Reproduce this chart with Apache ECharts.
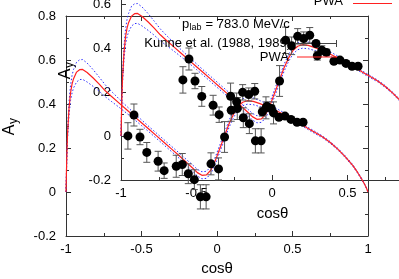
<!DOCTYPE html>
<html><head><meta charset="utf-8">
<script src="https://cdn.jsdelivr.net/npm/echarts@6/dist/echarts.min.js"></script>
<style>html,body{margin:0;padding:0;background:#fff}#c{width:399px;height:279px}</style>
</head><body><div id="c"></div>
<script>
// PWA curve (cos theta, A_y) and its uncertainty band
const pwaCos = [-1,-0.995,-0.99,-0.98,-0.97,-0.96,-0.95,-0.93,-0.91,-0.89,-0.86,-0.82,-0.78,-0.74,-0.7,-0.65,-0.6,-0.55,-0.5,-0.45,-0.4,-0.35,-0.3,-0.25,-0.2,-0.16,-0.13,-0.1,-0.07,-0.04,-0.01,0.02,0.05,0.08,0.11,0.14,0.17,0.2,0.24,0.28,0.32,0.36,0.4,0.45,0.5,0.55,0.6,0.65,0.7,0.75,0.8,0.85,0.9,0.93,0.96,0.98,0.99,1];
const pwaAy = [0,0.15,0.26,0.38,0.45,0.49,0.515,0.545,0.556,0.557,0.543,0.518,0.49,0.46,0.435,0.405,0.375,0.345,0.315,0.285,0.255,0.225,0.195,0.165,0.133,0.108,0.088,0.076,0.078,0.1,0.145,0.2,0.255,0.31,0.355,0.39,0.408,0.415,0.412,0.403,0.392,0.38,0.367,0.35,0.332,0.312,0.29,0.27,0.25,0.225,0.195,0.16,0.12,0.09,0.057,0.032,0.017,0];
const pwaUpper = [0,0.16,0.28,0.41,0.485,0.53,0.557,0.59,0.601,0.602,0.586,0.556,0.522,0.487,0.458,0.424,0.391,0.359,0.328,0.297,0.267,0.237,0.207,0.177,0.146,0.122,0.103,0.092,0.094,0.116,0.161,0.216,0.271,0.326,0.371,0.406,0.424,0.431,0.427,0.417,0.404,0.391,0.377,0.358,0.339,0.318,0.295,0.275,0.254,0.229,0.199,0.164,0.124,0.093,0.06,0.034,0.018,0];
const pwaLower = [0,0.14,0.24,0.35,0.415,0.45,0.473,0.5,0.511,0.512,0.5,0.48,0.458,0.433,0.412,0.386,0.359,0.331,0.302,0.273,0.243,0.213,0.183,0.153,0.12,0.094,0.073,0.06,0.062,0.084,0.129,0.184,0.239,0.294,0.339,0.374,0.392,0.399,0.397,0.389,0.38,0.369,0.357,0.342,0.325,0.306,0.285,0.265,0.246,0.221,0.191,0.156,0.116,0.087,0.054,0.03,0.016,0];

// Kunne et al. (1988, 1989) data points
const dataCos = [-0.59,-0.55,-0.51,-0.465,-0.39,-0.35,-0.27,-0.23,-0.19,-0.15,-0.11,-0.072,-0.04,0.01,0.05,0.09,0.13,0.17,0.21,0.25,0.3,0.33,0.36,0.41,0.45,0.49,0.53,0.57];
const dataAy = [0.255,0.35,0.25,0.18,0.14,0.097,0.117,0.125,0.083,0.056,-0.022,-0.022,0.128,0.105,0.25,0.435,0.41,0.453,0.443,0.458,0.365,0.39,0.38,0.34,0.345,0.33,0.317,0.317];
const dataErr = [0.06,0.05,0.035,0.045,0.045,0.035,0.05,0.05,0.045,0.045,0.055,0.055,0.05,0.05,0.07,0.06,0.04,0.035,0.03,0.035,0.02,0.02,0.015,0.01,0.01,0.01,0.01,0.01];

const xRange = [-1, 1], xStep = 0.5;
const yRange = [-0.2, 0.8], yStep = 0.2;
const legendTitleMain = 'p', legendTitleSub = 'lab', legendTitleRest = ' = 783.0 MeV/c';
const legendData = 'Kunne et al. (1988, 1989)';
const legendPwa = 'PWA';

const FONT = '"Liberation Sans", Arial, sans-serif';
const AX = '#333';

const curve = (ys) => pwaCos.map((c, i) => [c, ys[i]]);
const pts = dataCos.map((c, i) => [c, dataAy[i], dataErr[i]]);

function xAx(grid, pos, labels) {
  return {
    type: 'value', gridIndex: grid, position: pos, min: xRange[0], max: xRange[1], interval: xStep,
    axisLine: {show: true, onZero: false, lineStyle: {color: AX, width: 1}},
    axisTick: {show: true, inside: true, length: 5, lineStyle: {color: AX}},
    minorTick: {show: true, splitNumber: 2, length: 3, lineStyle: {color: AX}},
    splitLine: {show: false},
    axisLabel: {show: labels, margin: 7, color: '#000', fontSize: 13, fontFamily: FONT, showMinLabel: true, showMaxLabel: true, hideOverlap: false}
  };
}
function yAx(grid, pos, labels) {
  return {
    type: 'value', gridIndex: grid, position: pos, min: yRange[0], max: yRange[1], interval: yStep,
    axisLine: {show: true, onZero: false, lineStyle: {color: AX, width: 1}},
    axisTick: {show: true, inside: true, length: 5, lineStyle: {color: AX}},
    minorTick: {show: true, splitNumber: 2, length: 3, lineStyle: {color: AX}},
    splitLine: {show: false},
    axisLabel: {show: labels, margin: 10, color: '#000', fontSize: 13, fontFamily: FONT, showMinLabel: true, showMaxLabel: true, hideOverlap: false}
  };
}

function errRender(params, api) {
  const x = api.value(0), y = api.value(1), e = api.value(2);
  const t = api.coord([x, y + e]), b = api.coord([x, y - e]);
  const cw = 3.5;
  const st = {stroke: '#555', lineWidth: 1, fill: null};
  return {type: 'group', children: [
    {type: 'line', shape: {x1: t[0], y1: t[1], x2: b[0], y2: b[1]}, style: st},
    {type: 'line', shape: {x1: t[0] - cw, y1: t[1], x2: t[0] + cw, y2: t[1]}, style: st},
    {type: 'line', shape: {x1: b[0] - cw, y1: b[1], x2: b[0] + cw, y2: b[1]}, style: st}
  ]};
}

function seriesFor(xi, yi) {
  const base = {xAxisIndex: xi, yAxisIndex: yi};
  const blue = {color: '#2b2bff', width: 1, type: [1.5, 2]};
  return [
    Object.assign({type: 'line', data: curve(pwaUpper), showSymbol: false, symbol: 'none', lineStyle: blue, clip: true, z: 2}, base),
    Object.assign({type: 'line', data: curve(pwaLower), showSymbol: false, symbol: 'none', lineStyle: blue, clip: true, z: 2}, base),
    Object.assign({type: 'line', data: curve(pwaAy), showSymbol: false, symbol: 'none', lineStyle: {color: '#ff2020', width: 1.2}, clip: true, z: 3}, base),
    Object.assign({type: 'custom', data: pts, renderItem: errRender, encode: {x: 0, y: 1}, clip: true, z: 4}, base),
    Object.assign({type: 'scatter', data: pts, symbol: 'circle', symbolSize: 9, itemStyle: {color: '#000', opacity: 1}, clip: true, z: 5}, base)
  ];
}

function txt(x, y, text, align, size, extra) {
  return Object.assign({type: 'text', x: x, y: y, z: 50, silent: true,
    style: {text: text, font: size + 'px ' + FONT, fill: '#000', align: align, textAlign: align, verticalAlign: 'middle', textVerticalAlign: 'middle'}}, extra || {});
}
function seg(x1, y1, x2, y2, color, w) {
  return {type: 'line', z: 50, silent: true, shape: {x1, y1, x2, y2}, style: {stroke: color, lineWidth: w || 1}};
}
function ayTitle(cx, cy) {
  // rotated "A" with subscript "y"
  return {type: 'group', x: cx, y: cy, rotation: Math.PI / 2, silent: true, children: [
    txt(-4, -1, 'A', 'center', 16),
    txt(5, 3, 'y', 'center', 12)
  ]};
}

const chart = echarts.init(document.getElementById('c'), null, {renderer: 'canvas'});
chart.setOption({
  animation: false,
  backgroundColor: '#fff',
  grid: [
    {left: 66, top: 16, width: 302, height: 220, containLabel: false, outerBoundsMode: 'none'},
    {left: 121, top: -40, width: 302, height: 220, containLabel: false, outerBoundsMode: 'none'}
  ],
  xAxis: [xAx(0, 'bottom', true), xAx(0, 'top', false), xAx(1, 'bottom', true)],
  yAxis: [yAx(0, 'left', true), yAx(0, 'right', false), yAx(1, 'left', true)],
  series: seriesFor(0, 0).concat(seriesFor(2, 2)),
  graphic: [
    ayTitle(11, 126),
    ayTitle(66.5, 70),
    txt(217, 269, 'cosθ', 'center', 15),
    txt(272.5, 214, 'cosθ', 'center', 15),
    // inner key
    txt(182, 24, legendTitleMain, 'left', 13),
    txt(189.5, 28, legendTitleSub, 'left', 9),
    txt(202, 24, legendTitleRest, 'left', 13),
    txt(291, 43, legendData, 'right', 13),
    txt(289, 57, legendPwa, 'right', 13),
    seg(295, 43.5, 337, 43.5, '#444', 1),
    seg(295.5, 40, 295.5, 47, '#444', 1),
    seg(336.5, 40, 336.5, 47, '#444', 1),
    {type: 'circle', z: 51, silent: true, shape: {cx: 316, cy: 43.5, r: 4.5}, style: {fill: '#000'}},
    seg(297, 57, 337, 57, '#ff2020', 1.2),
    // key clipped at the top right
    txt(343, 1, legendPwa, 'right', 13),
    seg(353, 3.5, 392, 3.5, '#ff2020', 1.2)
  ]
});
</script>
</body></html>
